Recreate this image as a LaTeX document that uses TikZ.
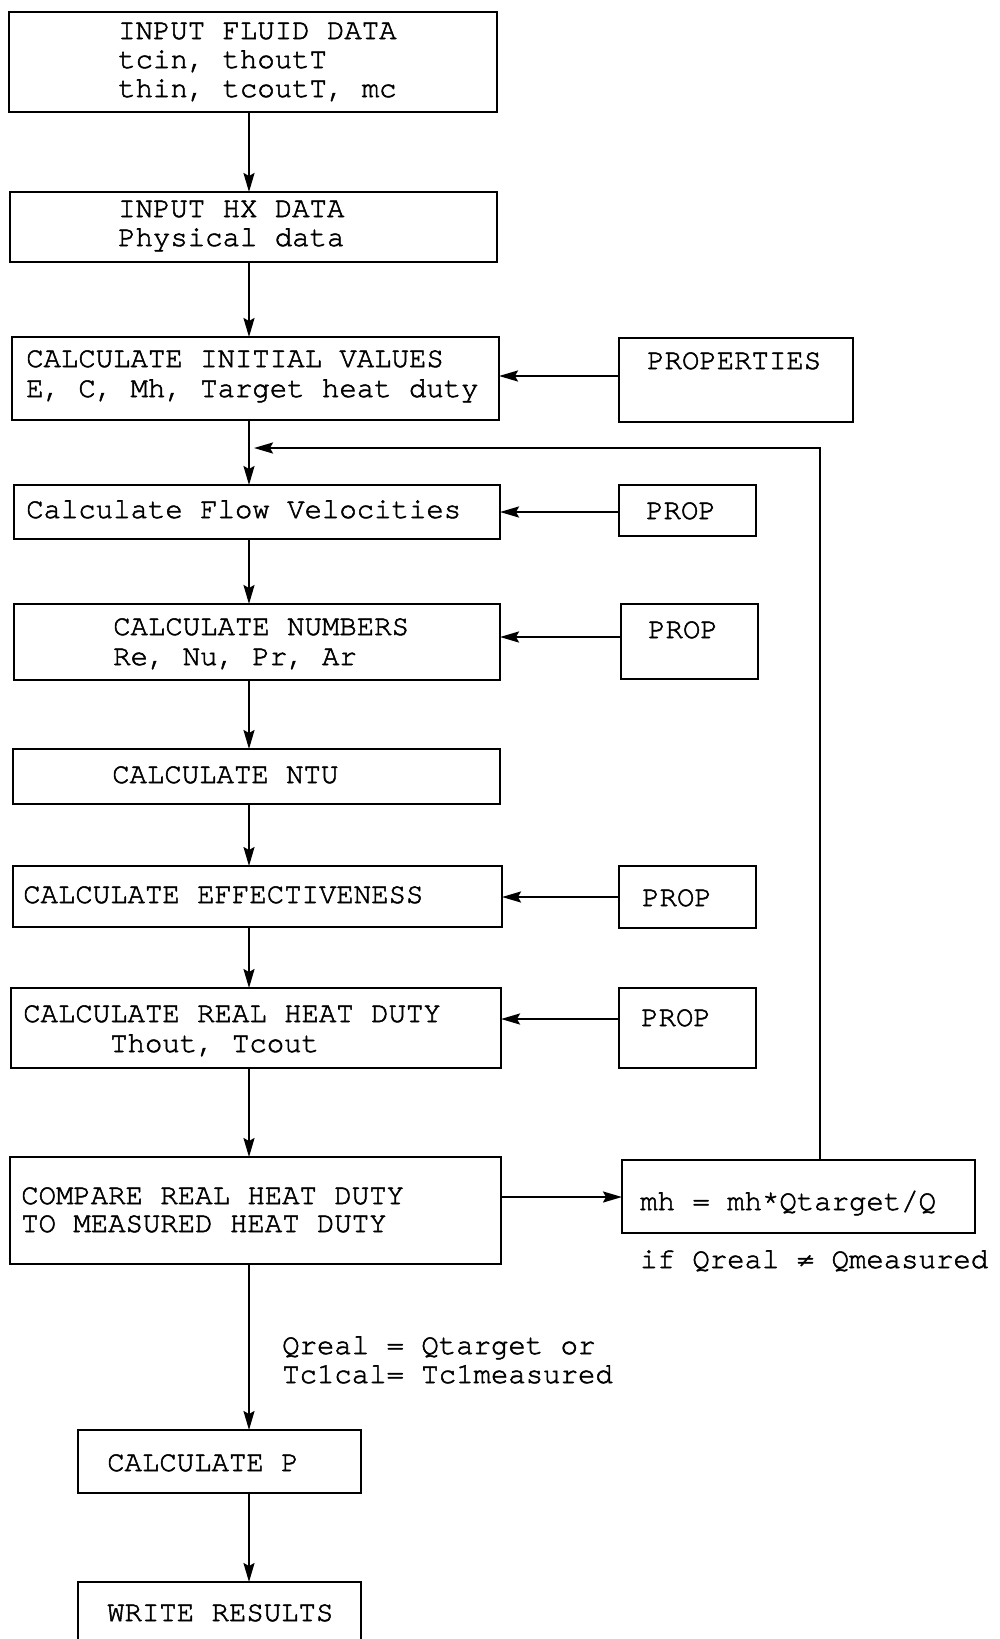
\documentclass[tikz,border=0pt]{standalone}
\usepackage{fontspec}
\newfontfamily\tw[FakeBold=1.8]{texgyrecursor-regular.otf}
\usetikzlibrary{arrows.meta,fit}
\newcommand\mybox[5]{\node[box, fit={(#2,#3)(#4,#5)}] (#1) {};}
\begin{document}
\begin{tikzpicture}[x=1pt,y=-1pt,
  box/.style={draw, line width=2.2pt, inner sep=0pt, outer sep=0pt},
  txt/.style={anchor=base west, inner sep=0pt, font=\tw\fontsize{29}{34}\selectfont},
  arr/.style={line width=2.2pt, -{Stealth[length=19pt,width=11pt,inset=3pt]}},
  ln/.style={line width=2.2pt}]
\useasboundingbox[fill=white] (0,0) rectangle (999,1639);
\coordinate (spine) at (249,0);
% boxes
\mybox{b1}{9}{12}{497}{112}
\mybox{b2}{10}{192}{497}{262}
\mybox{b3}{12}{337}{499}{420}
\mybox{pr0}{619}{338}{853}{422}
\mybox{b4}{14}{485}{500}{539}
\mybox{pr1}{619}{485}{756}{536}
\mybox{b5}{14}{604}{500}{680}
\mybox{pr2}{621}{604}{758}{679}
\mybox{b6}{13}{749}{500}{804}
\mybox{b7}{13}{866}{502}{927}
\mybox{pr3}{619}{866}{756}{928}
\mybox{b8}{11}{988}{501}{1068}
\mybox{pr4}{619}{988}{756}{1068}
\mybox{b9}{10}{1157}{501}{1264}
\mybox{mh}{622}{1160}{975}{1233}
\mybox{bp}{78}{1430}{361}{1493}
\mybox{bw}{78}{1582}{361}{1660}
% texts
\node[txt] (t1a) at (118,39) {INPUT FLUID DATA};
\node[txt] (t1b) at (118,68) {tcin, thoutT};
\node[txt] (t1c) at (118,97) {thin, tcoutT, mc};
\node[txt] (t2a) at (118,217) {INPUT HX DATA};
\node[txt] (t2b) at (118,246) {Physical data};
\node[txt] (t3a) at (26,367) {CALCULATE INITIAL VALUES};
\node[txt] (t3b) at (26,397) {E, C, Mh, Target heat duty};
\node[txt] (tp0) at (647,369) {PROPERTIES};
\node[txt] (t4) at (26,518) {Calculate Flow Velocities};
\node[txt] (tp1) at (646,519) {PROP};
\node[txt] (t5a) at (113,635) {CALCULATE NUMBERS};
\node[txt] (t5b) at (113,665) {Re, Nu, Pr, Ar};
\node[txt] (tp2) at (648,638) {PROP};
\node[txt] (t6) at (112,783) {CALCULATE NTU};
\node[txt] (t7) at (23,903) {CALCULATE EFFECTIVENESS};
\node[txt] (tp3) at (642,906) {PROP};
\node[txt] (t8a) at (23,1022) {CALCULATE REAL HEAT DUTY};
\node[txt] (t8b) at (110,1052) {Thout, Tcout};
\node[txt] (tp4) at (641,1026) {PROP};
\node[txt] (t9a) at (21,1204) {COMPARE REAL HEAT DUTY};
\node[txt] (t9b) at (21,1232) {TO MEASURED HEAT DUTY};
\node[txt] (tmh) at (640,1210) {mh = mh*Qtarget/Q};
\node[txt] (tif) at (640,1268) {if Qreal ≠ Qmeasured};
\node[txt] (tq1) at (282,1354) {Qreal = Qtarget or};
\node[txt] (tq2) at (282,1383) {Tc1cal= Tc1measured};
\node[txt] (tp) at (107,1471) {CALCULATE P};
\node[txt] (tw) at (107,1621) {WRITE RESULTS};
% main flow
\draw[arr] (b1.south -| spine) -- (b2.north -| spine);
\draw[arr] (b2.south -| spine) -- (b3.north -| spine);
\draw[arr] (b3.south -| spine) -- (b4.north -| spine);
\draw[arr] (b4.south -| spine) -- (b5.north -| spine);
\draw[arr] (b5.south -| spine) -- (b6.north -| spine);
\draw[arr] (b6.south -| spine) -- (b7.north -| spine);
\draw[arr] (b7.south -| spine) -- (b8.north -| spine);
\draw[arr] (b8.south -| spine) -- (b9.north -| spine);
\draw[arr] (b9.south -| spine) -- (bp.north -| spine);
\draw[arr] (bp.south -| spine) -- (bw.north -| spine);
% property inputs
\draw[arr] (pr0.west |- 0,376) -- (b3.east |- 0,376);
\draw[arr] (pr1.west |- 0,512) -- (b4.east |- 0,512);
\draw[arr] (pr2.west |- 0,637) -- (b5.east |- 0,637);
\draw[arr] (pr3.west |- 0,897) -- (b7.east |- 0,897);
\draw[arr] (pr4.west |- 0,1019) -- (b8.east |- 0,1019);
% compare to correction and feedback
\draw[arr] (b9.east |- 0,1197) -- (mh.west |- 0,1197);
\coordinate (fb) at (820,448);
\draw[arr] (mh.north -| fb) -- (fb) -- ([xshift=5pt]fb -| spine);
\end{tikzpicture}
\end{document}
